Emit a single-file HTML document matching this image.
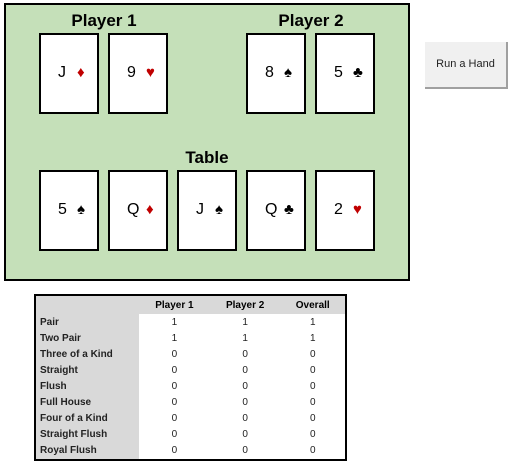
<!DOCTYPE html>
<html><head><meta charset="utf-8"><style>
body{margin:0;width:513px;height:463px;background:#fff;position:relative;overflow:hidden;font-family:"Liberation Sans",sans-serif}
.board{position:absolute;left:4px;top:3px;width:402px;height:274px;border:2px solid #000;background:#c5e0b9}
.title{position:absolute;font-weight:bold;font-size:17px;transform:translateX(-50%);white-space:nowrap}
.card{position:absolute;width:56px;height:77px;border:2px solid #000;background:#fff}
.card span{position:absolute;top:29px;line-height:18px;font-size:16px}
.r{left:17px}.s{left:36px;font-size:15px !important}
.red{color:#c00000}
.btn{position:absolute;left:425px;top:42px;width:81px;height:45px;background:#f0f0f0;border-right:2px solid #a0a0a0;border-bottom:2px solid #a0a0a0;font-size:11px;line-height:45px;text-align:center;color:#222}
table{position:absolute;left:34px;top:294px;border:2px solid #000;border-collapse:collapse;width:313px;font-size:10px}
td,th{padding:0 4px;height:16.1px}
th{background:#d9d9d9;font-weight:bold;text-align:center;height:18px}
td:first-child{background:#d9d9d9;font-weight:bold;text-align:left;width:95px}
td{text-align:center;color:#222}
</style></head><body>
<div class="board"></div>
<div class="title" style="left:104px;top:11px">Player 1</div>
<div class="title" style="left:311px;top:11px">Player 2</div>
<div class="title" style="left:207px;top:148px">Table</div>
<div class="card" style="left:39px;top:33px"><span class="r">J</span><span class="s red">♦</span></div>
<div class="card" style="left:108px;top:33px"><span class="r">9</span><span class="s red">♥</span></div>
<div class="card" style="left:246px;top:33px"><span class="r">8</span><span class="s">♠</span></div>
<div class="card" style="left:315px;top:33px"><span class="r">5</span><span class="s">♣</span></div>
<div class="card" style="left:39px;top:170px"><span class="r">5</span><span class="s">♠</span></div>
<div class="card" style="left:108px;top:170px"><span class="r">Q</span><span class="s red">♦</span></div>
<div class="card" style="left:177px;top:170px"><span class="r">J</span><span class="s">♠</span></div>
<div class="card" style="left:246px;top:170px"><span class="r">Q</span><span class="s">♣</span></div>
<div class="card" style="left:315px;top:170px"><span class="r">2</span><span class="s red">♥</span></div>
<div class="btn">Run a Hand</div>
<table>
<tr><th></th><th>Player 1</th><th>Player 2</th><th>Overall</th></tr>
<tr><td>Pair</td><td>1</td><td>1</td><td>1</td></tr>
<tr><td>Two Pair</td><td>1</td><td>1</td><td>1</td></tr>
<tr><td>Three of a Kind</td><td>0</td><td>0</td><td>0</td></tr>
<tr><td>Straight</td><td>0</td><td>0</td><td>0</td></tr>
<tr><td>Flush</td><td>0</td><td>0</td><td>0</td></tr>
<tr><td>Full House</td><td>0</td><td>0</td><td>0</td></tr>
<tr><td>Four of a Kind</td><td>0</td><td>0</td><td>0</td></tr>
<tr><td>Straight Flush</td><td>0</td><td>0</td><td>0</td></tr>
<tr><td>Royal Flush</td><td>0</td><td>0</td><td>0</td></tr>
</table>
</body></html>
